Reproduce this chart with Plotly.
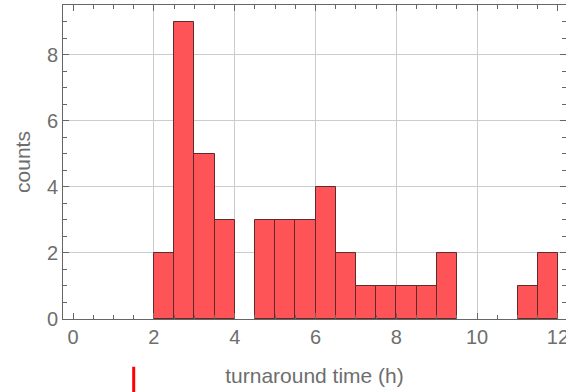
import plotly.graph_objects as go

# histogram of turnaround times, 0.5 h bins
bin_left = [2.0, 2.5, 3.0, 3.5, 4.0, 4.5, 5.0, 5.5, 6.0, 6.5,
            7.0, 7.5, 8.0, 8.5, 9.0, 9.5, 10.0, 10.5, 11.0, 11.5]
counts = [2, 9, 5, 3, 0, 3, 3, 3, 4, 2,
          1, 1, 1, 1, 2, 0, 0, 0, 1, 2]
bin_width = 0.5
marker_x = 1.5
x_grid = [2, 4, 6, 8, 10]

x_range = [-0.25, 12.2]
centers = [b + bin_width / 2 for b in bin_left]
# empty bins get no outline
edge_widths = [1 if c > 0 else 0 for c in counts]

fig = go.Figure()
# carrier trace so the grid-only overlay axis gets drawn
fig.add_trace(go.Scatter(x=x_grid, y=[0] * len(x_grid), xaxis="x2", yaxis="y",
                         mode="markers", marker=dict(opacity=0), hoverinfo="skip"))
fig.add_trace(go.Bar(
    x=centers, y=counts, width=bin_width,
    marker=dict(color="#ff5457", line=dict(color="#5e2a2a", width=edge_widths)),
))

fig.add_shape(type="line", xref="x", yref="paper",
              x0=marker_x, x1=marker_x, y0=-0.152, y1=-0.235,
              line=dict(color="#ff0000", width=3))

tick_font = dict(family="Liberation Sans, Arial, sans-serif", size=20, color="#6e6e6e")
title_font = dict(family="Liberation Sans, Arial, sans-serif", size=21, color="#6e6e6e")
common = dict(
    showline=True, linecolor="#666666", linewidth=1, mirror="ticks",
    ticks="inside", ticklen=6, tickcolor="#666666",
    zeroline=False, tickfont=tick_font, ticklabeloverflow="allow",
    minor=dict(ticks="inside", ticklen=4, tickcolor="#666666", dtick=0.5, showgrid=False),
)

fig.update_layout(
    width=566, height=392,
    margin=dict(l=63, r=0, t=5, b=73, autoexpand=False),
    plot_bgcolor="white", paper_bgcolor="white",
    showlegend=False, bargap=0,
    xaxis=dict(range=x_range, dtick=2, tick0=0, showgrid=False,
               title=dict(text="turnaround time (h)", font=title_font, standoff=21),
               **common),
    # vertical grid lines only at the interior labelled values
    xaxis2=dict(range=x_range, overlaying="x", side="bottom", tickvals=x_grid,
                showgrid=True, gridcolor="#cccccc", gridwidth=1,
                showticklabels=False, ticks="", showline=False, zeroline=False),
    yaxis=dict(range=[0, 9.5], dtick=2, tick0=0,
               showgrid=True, gridcolor="#cccccc", gridwidth=1,
               title=dict(text="counts", font=title_font, standoff=10),
               **common),
)

fig.write_html("out.html")
